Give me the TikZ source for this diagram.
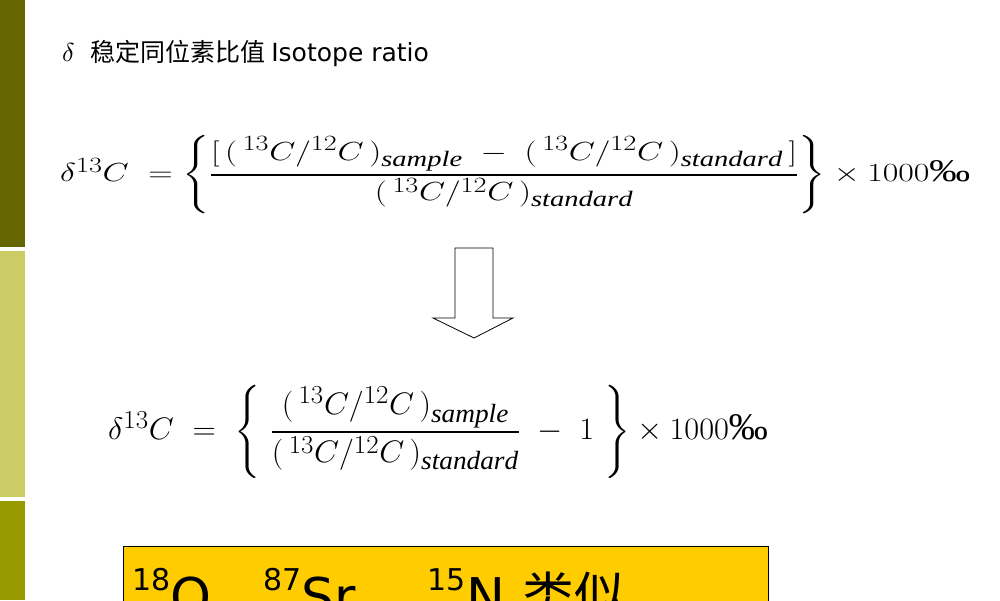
\documentclass[tikz,border=0pt]{standalone}
\usepackage{amsmath}
\usepackage{graphicx}
\usepackage{fontspec}
\setmainfont{Liberation Serif}
\newfontfamily\cjk{Noto Sans CJK SC}
\newfontfamily\dvs{DejaVu Sans}
\definecolor{barA}{HTML}{666600}
\definecolor{barB}{HTML}{CCCC66}
\definecolor{barC}{HTML}{999900}
\definecolor{boxY}{HTML}{FFCC00}
\newcommand{\rat}{(\,^{13}C/^{12}C\,)}
\begin{document}
\begin{tikzpicture}[x=1pt,y=-1pt,
  formula/.style={anchor=west,inner sep=0pt,font=\fontsize{30}{36}\selectfont}]
\useasboundingbox (0,0) rectangle (1000,600);
\fill[white] (0,0) rectangle (1000,600);
\fill[barA] (0,0) rectangle (25,247);
\fill[barB] (0,251) rectangle (25,497);
\fill[barC] (0,501) rectangle (25,600);
\node[anchor=west,inner sep=0pt] (title) at (62,54) {\scalebox{2.6}{$\delta$}\hspace{16pt}{\cjk\fontsize{25}{28}\selectfont 稳定同位素比值 }{\dvs\fontsize{25}{28}\selectfont Isotope ratio}};
\node[formula] (f1) at (60,175) {\scalebox{1.36}[1.05]{$\delta^{13}C\ =\left\{\dfrac{[\,\rat_{\mathit{sample}}\ -\ \rat_{\mathit{standard}}\,]}{\rat_{\mathit{standard}}}\right\}\times 1000\text{‰}$}};
\node[formula] (f2) at (108,432) {\scalebox{1.3}[1.25]{$\delta^{13}C\ =\ \left\{\ \dfrac{\rat_{\mathit{sample}}}{\rat_{\mathit{standard}}}\ -\ 1\ \right\}\times 1000\text{‰}$}};
\draw[line width=0.8pt,fill=white] (455,248) -- (493,248) -- (493,318) -- (513,318) -- (474,338) -- (433,318) -- (455,318) -- cycle;
\begin{scope}
\clip (0,0) rectangle (1000,600);
\draw[fill=boxY,line width=0.8pt] (123,546) rectangle (768,640);
\node[anchor=west,inner sep=0pt] (box) at (132,594) {\dvs\fontsize{52}{56}\selectfont\raisebox{0.85ex}{\fontsize{30}{32}\selectfont 18}O{\cjk 、}\raisebox{0.85ex}{\fontsize{30}{32}\selectfont 87}Sr\hspace{6pt}{\cjk 、}\hspace{14pt}\raisebox{0.85ex}{\fontsize{30}{32}\selectfont 15}N\hspace{18pt}{\cjk 类似}};
\end{scope}
\end{tikzpicture}
\end{document}
